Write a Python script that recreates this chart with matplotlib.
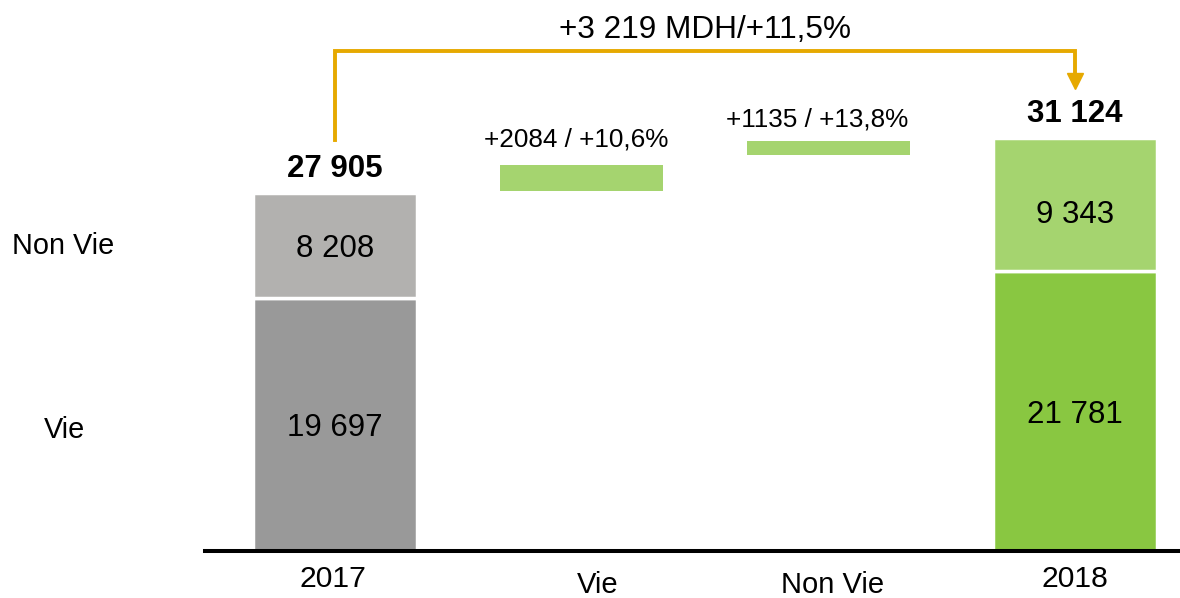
import matplotlib
matplotlib.use('Agg')
import matplotlib.pyplot as plt

plt.rcParams['font.family'] = ['Liberation Sans', 'DejaVu Sans']

# data
categories = ['2017', 'Vie', 'Non Vie', '2018']
vie_values = [19697, 21781]          # 2017, 2018
nonvie_values = [8208, 10350]        # drawn height (2018 segment drawn taller than its label)
vie_labels = ['19 697', '21 781']
nonvie_labels = ['8 208', '9 343']
total_labels = ['27 905', '31 124']
delta_bottom = [28050, 30830]
delta_height = [2000, 1090]
delta_labels = ['+2084 / +10,6%', '+1135 / +13,8%']
growth_label = '+3 219 MDH/+11,5%'

grey_dark = '#999999'
grey_light = '#B2B1AF'
green_dark = '#89C741'
green_light = '#A5D46F'
orange = '#E6A900'

W, H = 1180, 598
fig = plt.figure(figsize=(W / 100, H / 100), dpi=100)
ax = fig.add_axes([205 / W, 47 / H, 975 / W, 551 / H])
ytop = 42900
ax.set_xlim(-0.527, 3.426)
ax.set_ylim(0, ytop)


def py(y):
    # pixel row -> data y
    return (551 - y) / 551 * ytop


def fx(x, y):
    return x / W, 1 - y / H


stack_x = [0, 3]
vie_colors = [grey_dark, green_dark]
nonvie_colors = [grey_light, green_light]
ax.bar(stack_x, vie_values, width=0.665, color=vie_colors, edgecolor='white', linewidth=2.5, zorder=2)
ax.bar(stack_x, nonvie_values, bottom=vie_values, width=0.665, color=nonvie_colors,
       edgecolor='white', linewidth=2.5, zorder=2)
ax.bar([1, 2], delta_height, bottom=delta_bottom, width=0.66, color=green_light, linewidth=0, zorder=2)

# labels inside the stacks
for i, x in enumerate(stack_x):
    v, n = vie_values[i], nonvie_values[i]
    ax.annotate(vie_labels[i], (x, v / 2), xytext=(0, -8.3), textcoords='offset points',
                ha='center', va='baseline', fontsize=22.5, zorder=3)
    extra = -5 if i == 1 else 0
    ax.annotate(nonvie_labels[i], (x, v + n / 2), xytext=(0, -8.3 + extra), textcoords='offset points',
                ha='center', va='baseline', fontsize=22.5, zorder=3)
    ax.annotate(total_labels[i], (x, v + n), xytext=(0, 11.5), textcoords='offset points',
                ha='center', va='baseline', fontsize=22.5, fontweight='bold', zorder=3)

delta_dx = [-4, -8]
delta_dy = [13.5, 10.5]
for i, x in enumerate([1, 2]):
    ax.annotate(delta_labels[i], (x, delta_bottom[i] + delta_height[i]),
                xytext=(delta_dx[i], delta_dy[i]), textcoords='offset points',
                ha='center', va='baseline', fontsize=18.8)

# growth bracket
ax.plot([0, 0, 3, 3], [py(140), py(51), py(51), py(74)], color=orange, lw=2.8,
        solid_joinstyle='miter', clip_on=False, zorder=4)
ax.plot([3], [py(80.5)], marker='v', markersize=11.5, color=orange, clip_on=False, zorder=4)
fig.text(*fx(705, 38), growth_label, ha='center', va='baseline', fontsize=22.7)

# bottom category labels
cat_pos = [(333, 587), (598, 593), (833, 593), (1075, 587)]
for lab, (x, y) in zip(categories, cat_pos):
    fig.text(*fx(x, y), lab, ha='center', va='baseline', fontsize=21.7 if lab[0] == '2' else 21)

# row labels
fig.text(*fx(12, 254), 'Non Vie', ha='left', va='baseline', fontsize=20.8)
fig.text(*fx(65, 438), 'Vie', ha='center', va='baseline', fontsize=20.8)

for s in ['top', 'left', 'right']:
    ax.spines[s].set_visible(False)
ax.spines['bottom'].set_linewidth(2.9)
ax.spines['bottom'].set_zorder(5)
ax.set_xticks([])
ax.set_yticks([])

fig.savefig('out.png', dpi=100)
